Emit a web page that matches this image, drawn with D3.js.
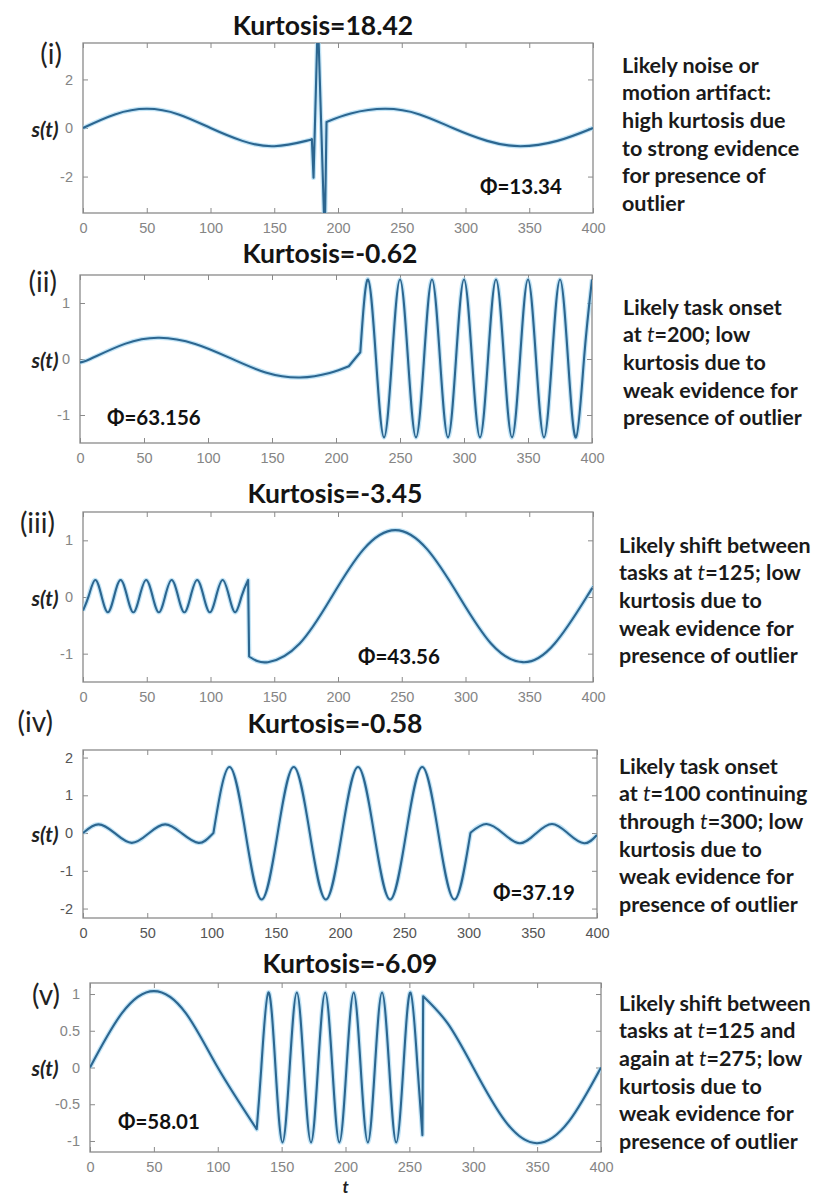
<!DOCTYPE html>
<html>
<head>
<meta charset="utf-8">
<script src="https://cdn.jsdelivr.net/npm/d3@7"></script>
<style>
  body { margin: 0; background: #fff; }
  svg { display: block; }
</style>
</head>
<body>
<svg id="chart" width="815" height="1197"></svg>
<script>
// ---------------- data ----------------
const panelIds = ["(i)", "(ii)", "(iii)", "(iv)", "(v)"];
const kurtosis = ["18.42", "-0.62", "-3.45", "-0.58", "-6.09"];
const phiValues = ["13.34", "63.156", "43.56", "37.19", "58.01"];

const xTickValues = [0, 50, 100, 150, 200, 250, 300, 350, 400];
const xTickLabels = ["0", "50", "100", "150", "200", "250", "300", "350", "400"];

const yTicks1 = [-2, 0, 2];
const yTickLabels1 = ["-2", "0", "2"];
const yTicks2 = [-1, 0, 1];
const yTickLabels2 = ["-1", "0", "1"];
const yTicks3 = [-1, 0, 1];
const yTickLabels3 = ["-1", "0", "1"];
const yTicks4 = [-2, -1, 0, 1, 2];
const yTickLabels4 = ["-2", "-1", "0", "1", "2"];
const yTicks5 = [-1, -0.5, 0, 0.5, 1];
const yTickLabels5 = ["-1", "-0.5", "0", "0.5", "1"];

// s(t) samples [t, value], one array per continuous piece of each signal
const sig1a = [[0, 0], [25, 0.56], [50, 0.79], [75, 0.56], [100, 0], [125, -0.53], [150, -0.75], [175, -0.53], [179.5, -0.46]];
const sig1b = [[180.8, -2.05], [184.2, 4.6], [189.6, -4.6]];
const sig1c = [[191, 0.25], [210, 0.6], [237, 0.79], [264, 0.56], [290, 0], [317, -0.53], [343, -0.75], [372, -0.53], [400, 0]];

const sig2a = [[0, -0.06], [8, 0], [35, 0.27], [62, 0.38], [90, 0.27], [117, 0.02], [145, -0.24], [172, -0.33], [195, -0.25], [210, -0.13]];
const sig2b = [[219, 0.12], [225, 1.42], [231.25, 0], [237.5, -1.4], [243.75, 0], [250, 1.42], [256.25, 0], [262.5, -1.4],
  [268.75, 0], [275, 1.42], [281.25, 0], [287.5, -1.4], [293.75, 0], [300, 1.42], [306.25, 0], [312.5, -1.4],
  [318.75, 0], [325, 1.42], [331.25, 0], [337.5, -1.4], [343.75, 0], [350, 1.42], [356.25, 0], [362.5, -1.4],
  [368.75, 0], [375, 1.42], [381.25, 0], [387.5, -1.4], [393.75, 0], [400, 1.42]];

const sig3a = [[0, -0.24], [4.5, 0.02], [9.5, 0.3], [14.5, 0.02], [19.5, -0.27], [24.5, 0.02], [29.5, 0.3], [34.5, 0.02],
  [39.5, -0.27], [44.5, 0.02], [49.5, 0.3], [54.5, 0.02], [59.5, -0.27], [64.5, 0.02], [69.5, 0.3], [74.5, 0.02],
  [79.5, -0.27], [84.5, 0.02], [89.5, 0.3], [94.5, 0.02], [99.5, -0.27], [104.5, 0.02], [109.5, 0.3], [114.5, 0.02],
  [119.5, -0.27], [124.5, 0.02], [129.5, 0.3]];
const sig3b = [[130.3, -1.05], [145, -1.15], [170, -0.82], [195, 0], [220, 0.84], [245, 1.18], [270, 0.84], [295, 0.01],
  [320, -0.82], [345, -1.15], [370, -0.82], [395, 0], [400, 0.17]];

const sig4a = [[0, 0], [12, 0.23], [25, -0.01], [38, -0.26], [51, -0.01], [64, 0.23], [77, -0.01], [90, -0.26], [100, -0.05]];
const sig4b = [[101.5, 0], [114, 1.75], [126.5, 0], [139, -1.76], [151.5, 0], [164, 1.75], [176.5, 0], [189, -1.76],
  [201.5, 0], [214, 1.75], [226.5, 0], [239, -1.76], [251.5, 0], [264, 1.75], [276.5, 0], [289, -1.76], [301.5, 0]];
const sig4c = [[302, 0.02], [314, 0.24], [327, -0.01], [340, -0.27], [352.5, -0.01], [365, 0.24], [377.5, -0.01], [390, -0.27], [400, -0.05]];

const sig5a = [[0, 0], [25, 0.74], [50, 1.04], [75, 0.74], [100, 0], [130.5, -0.84]];
const sig5b = [[130.5, -0.84], [134.1, 0], [139.6, 1.02], [145.2, 0], [150.7, -1.02], [156.3, 0], [161.9, 1.02], [167.4, 0],
  [173, -1.02], [178.5, 0], [184.1, 1.02], [189.7, 0], [195.2, -1.02], [200.8, 0], [206.4, 1.02], [211.9, 0],
  [217.5, -1.02], [223, 0], [228.6, 1.02], [234.2, 0], [239.7, -1.02], [245.3, 0], [250.9, 1.02], [256.4, 0], [260.2, -0.92]];
const sig5c = [[260.8, 0.97], [280, 0.6], [300, 0], [325, -0.73], [350, -1.03], [375, -0.73], [400, 0]];

// annotation text beside each panel ("*" toggles italics)
const note1 = ["Likely noise or", "motion artifact:", "high kurtosis due", "to strong evidence", "for presence of", "outlier"];
const note2 = ["Likely task onset", "at *t*=200; low", "kurtosis due to", "weak evidence for", "presence of outlier"];
const note3 = ["Likely shift between", "tasks at *t*=125; low", "kurtosis due to", "weak evidence for", "presence of outlier"];
const note4 = ["Likely task onset", "at *t*=100 continuing", "through *t*=300; low", "kurtosis due to", "weak evidence for", "presence of outlier"];
const note5 = ["Likely shift between", "tasks at *t*=125 and", "again at *t*=275; low", "kurtosis due to", "weak evidence for", "presence of outlier"];

// ---------------- layout ----------------
const panels = [
  { box: [83, 593, 43, 213], yDomain: [-3.5, 3.5], yTicks: yTicks1, yLabels: yTickLabels1,
    pieces: [{ pts: sig1a, smooth: true }, { pts: sig1b, smooth: false }, { pts: sig1c, smooth: true }],
    note: note1, noteX: 622, noteY: 65, title: [323, 25], id: [62, 54], phi: [480, 187], tickFill: "#858585" },
  { box: [80, 592, 275, 443], yDomain: [-1.5, 1.5], yTicks: yTicks2, yLabels: yTickLabels2,
    pieces: [{ pts: sig2a, smooth: true }, { pts: sig2b, smooth: true }],
    note: note2, noteX: 623, noteY: 307, title: [330, 253], id: [57, 282], phi: [107, 418], tickFill: "#858585" },
  { box: [83, 593, 512, 682], yDomain: [-1.5, 1.5], yTicks: yTicks3, yLabels: yTickLabels3,
    pieces: [{ pts: sig3a, smooth: true }, { pts: sig3b, smooth: true }],
    note: note3, noteX: 619, noteY: 545, title: [335, 493], id: [55, 523], phi: [358, 657], tickFill: "#858585" },
  { box: [83, 597, 750, 918], yDomain: [-2.25, 2.2], yTicks: yTicks4, yLabels: yTickLabels4,
    pieces: [{ pts: sig4a, smooth: true }, { pts: sig4b, smooth: true }, { pts: sig4c, smooth: true }],
    note: note4, noteX: 619, noteY: 766, title: [335, 723], id: [53, 722], phi: [493, 893], tickFill: "#555" },
  { box: [90, 601, 983, 1152], yDomain: [-1.15, 1.15], yTicks: yTicks5, yLabels: yTickLabels5,
    pieces: [{ pts: sig5a, smooth: true }, { pts: sig5b, smooth: true }, { pts: sig5c, smooth: true }],
    note: note5, noteX: 619, noteY: 1003, title: [350, 963], id: [60, 995], phi: [118, 1122], tickFill: "#858585" }
];

const svg = d3.select("#chart");
const TEXT_FONT = "Lato, 'Open Sans', 'DejaVu Sans', sans-serif";
const TICK_FONT = "'Liberation Sans', Arial, sans-serif";
const FRAME = "#8a8a8a";
const LINE = "#2c6690";
const HALO = "#a8d8f2";
const noteLine = 27.6;

panels.forEach((p, i) => {
  const [x0, x1, y0, y1] = p.box;
  const x = d3.scaleLinear().domain([0, 400]).range([x0, x1]);
  const y = d3.scaleLinear().domain(p.yDomain).range([y1, y0]);
  const g = svg.append("g");

  // clip region for the signal
  const clipId = "clip" + i;
  svg.append("clipPath").attr("id", clipId)
    .append("rect").attr("x", x0).attr("y", y0).attr("width", x1 - x0).attr("height", y1 - y0);

  // axes: ticks point inward on all four sides
  const tickLen = 5;
  const bottom = d3.axisBottom(x).tickValues(xTickValues).tickSizeInner(-tickLen).tickSizeOuter(0)
    .tickPadding(10).tickFormat((d, k) => xTickLabels[k]);
  const top = d3.axisTop(x).tickValues(xTickValues).tickSizeInner(-tickLen).tickSizeOuter(0).tickFormat("");
  const left = d3.axisLeft(y).tickValues(p.yTicks).tickSizeInner(-tickLen).tickSizeOuter(0)
    .tickPadding(10).tickFormat((d, k) => p.yLabels[k]);
  const right = d3.axisRight(y).tickValues(p.yTicks).tickSizeInner(-tickLen).tickSizeOuter(0).tickFormat("");

  const axes = [
    g.append("g").attr("transform", `translate(0,${y1})`).call(bottom),
    g.append("g").attr("transform", `translate(0,${y0})`).call(top),
    g.append("g").attr("transform", `translate(${x0},0)`).call(left),
    g.append("g").attr("transform", `translate(${x1},0)`).call(right)
  ];
  axes.forEach(a => {
    a.select(".domain").remove();
    a.selectAll(".tick line").attr("stroke", FRAME).attr("stroke-width", 1);
    a.selectAll(".tick text").attr("fill", p.tickFill).attr("font-family", TICK_FONT).attr("font-size", 14.5);
  });

  // plot frame
  g.append("rect").attr("x", x0).attr("y", y0).attr("width", x1 - x0).attr("height", y1 - y0)
    .attr("fill", "none").attr("stroke", FRAME).attr("stroke-width", 1.3);

  // signal path: smooth pieces joined by straight jumps
  const smoothGen = d3.line().x(d => x(d[0])).y(d => y(d[1])).curve(d3.curveNatural);
  const straightGen = d3.line().x(d => x(d[0])).y(d => y(d[1])).curve(d3.curveLinear);
  const pathD = p.pieces.map((pc, k) => {
    const s = (pc.smooth ? smoothGen : straightGen)(pc.pts);
    return k ? s.replace(/^M/, "L") : s;
  }).join("");
  const sig = g.append("g").attr("clip-path", `url(#${clipId})`);
  sig.append("path").attr("d", pathD).attr("fill", "none").attr("stroke", HALO)
    .attr("stroke-width", 4.6).attr("stroke-opacity", 0.7).attr("stroke-linejoin", "round");
  sig.append("path").attr("d", pathD).attr("fill", "none").attr("stroke", LINE)
    .attr("stroke-width", 2.1).attr("stroke-linejoin", "round");

  // title
  g.append("text").attr("x", p.title[0]).attr("y", p.title[1]).attr("dy", "0.36em")
    .attr("text-anchor", "middle").attr("font-family", TEXT_FONT).attr("font-weight", 700)
    .attr("font-size", 26.5).attr("fill", "#141414").text("Kurtosis=" + kurtosis[i]);

  // panel id
  g.append("text").attr("x", p.id[0]).attr("y", p.id[1]).attr("dy", "0.36em")
    .attr("text-anchor", "end").attr("font-family", TEXT_FONT).attr("font-size", 28)
    .attr("fill", "#222").text(panelIds[i]);

  // y-axis label
  g.append("text").attr("x", 45).attr("y", y(0) + 1).attr("dy", "0.36em")
    .attr("text-anchor", "middle").attr("font-family", TEXT_FONT).attr("font-weight", 700)
    .attr("font-style", "italic").attr("font-size", 21).attr("fill", "#222").text("s(t)");

  // phi annotation
  g.append("text").attr("x", p.phi[0]).attr("y", p.phi[1]).attr("dy", "0.36em")
    .attr("font-family", TEXT_FONT).attr("font-weight", 700).attr("font-size", 20.5)
    .attr("fill", "#111").text("\u03A6=" + phiValues[i]);

  // note beside the panel
  const note = g.append("text").attr("font-family", TEXT_FONT).attr("font-weight", 700)
    .attr("font-size", 21.5).attr("fill", "#1a1a1a");
  p.note.forEach((line, k) => {
    const row = note.append("tspan").attr("x", p.noteX).attr("y", p.noteY + k * noteLine).attr("dy", "0.36em");
    line.split("*").forEach((part, m) => {
      if (!part) return;
      const t = row.append("tspan").text(part);
      if (m % 2 === 1) t.attr("font-style", "italic").attr("font-weight", 400);
    });
  });

  if (i === panels.length - 1) {
    g.append("text").attr("x", (x0 + x1) / 2).attr("y", 1193)
      .attr("text-anchor", "middle").attr("font-family", TEXT_FONT).attr("font-weight", 700)
      .attr("font-style", "italic").attr("font-size", 17).attr("fill", "#222").text("t");
  }
});
</script>
</body>
</html>
